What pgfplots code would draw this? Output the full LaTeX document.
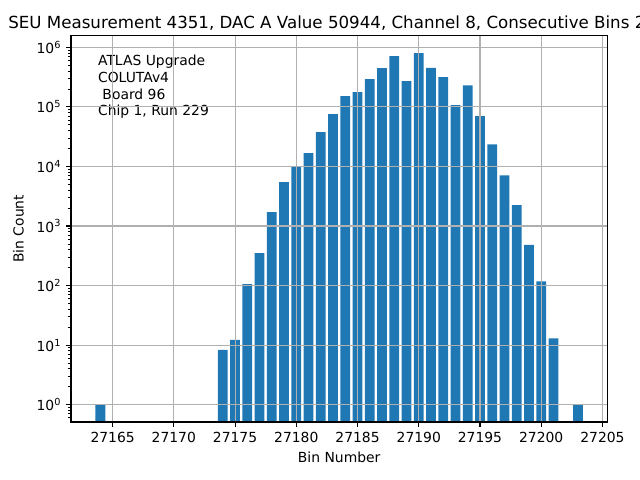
\documentclass[border=0pt]{standalone}
\usepackage{pgfplots}
\usepackage{pgfplotstable}
\pgfplotsset{compat=1.18}
\usepackage{fontspec}
\setmainfont{DejaVu Sans}
\definecolor{mplblue}{HTML}{1F77B4}
\definecolor{gridgray}{HTML}{B0B0B0}
\pgfplotstableread{
x y
27164 1
27174 8.3
27175 12.2
27176 106
27177 351
27178 1710
27179 5450
27180 9900
27181 16700
27182 37600
27183 75300
27184 151000
27185 177000
27186 292000
27187 447000
27188 708000
27189 271000
27190 795000
27191 450000
27192 315000
27193 107000
27194 230000
27195 70000
27196 23500
27197 7100
27198 2250
27199 480
27200 118
27201 13
27203 1
}\bins
\begin{document}
\begin{tikzpicture}
\useasboundingbox (0pt,0pt) rectangle (460.8pt,345.6pt);
\clip (0pt,0pt) rectangle (460.8pt,345.6pt);
\begin{axis}[
  at={(51.1pt,41.8pt)}, anchor=south west,
  scale only axis, width=386.2pt, height=278.1pt,
  ymode=log, log origin=infty,
  xmin=1.6, xmax=45.4,
  ymin=0.513, ymax=1.567e6,
  ybar, bar width=0.8, bar shift=0pt,
  axis on top,
  xtick={5,10,15,20,25,30,35,40,45},
  xticklabels={27165,27170,27175,27180,27185,27190,27195,27200,27205},
  ytick={1,10,100,1000,10000,100000,1000000},
  yticklabels={10\textsuperscript{0},10\textsuperscript{1},10\textsuperscript{2},10\textsuperscript{3},10\textsuperscript{4},10\textsuperscript{5},10\textsuperscript{6}},
  minor ytick={0.6,0.7,0.8,0.9,2,3,4,5,6,7,8,9,20,30,40,50,60,70,80,90,200,300,400,500,600,700,800,900,2000,3000,4000,5000,6000,7000,8000,9000,20000,30000,40000,50000,60000,70000,80000,90000,200000,300000,400000,500000,600000,700000,800000,900000},
  tick align=outside, tick pos=left,
  major tick length=3.5pt, minor tick length=2pt,
  every major tick/.style={line width=0.8pt, black},
  every minor tick/.style={line width=0.6pt, black},
  grid=major,
  major grid style={gridgray, line width=0.8pt},
  axis line style={line width=0.8pt, black},
  ticklabel style={font=\fontsize{10}{12}\selectfont},
  label style={font=\fontsize{10}{12}\selectfont},
  xlabel={Bin Number},
  ylabel={Bin Count},
  xlabel style={at={(axis description cs:0.5,0)}, anchor=base, yshift=-29pt},
  ylabel style={at={(axis description cs:0,0.5)}, anchor=base, rotate=0, yshift=34pt},
]
\addplot[fill=mplblue, draw=none] table[x expr=\thisrow{x}-27160, y=y] {\bins};
\node[anchor=north west, inner sep=0pt, align=left, font=\fontsize{10}{12}\selectfont]
  at (rel axis cs:0.05,0.95) {ATLAS Upgrade\\COLUTAv4\\\ Board 96\\Chip 1, Run 229};
\end{axis}
\node[anchor=base west, inner sep=0pt, font=\fontsize{12}{14.4}\selectfont] at (5.8pt,325.4pt)
  {SEU Measurement 4351, DAC A Value 50944, Channel 8, Consecutive Bins 2};
\end{tikzpicture}
\end{document}
